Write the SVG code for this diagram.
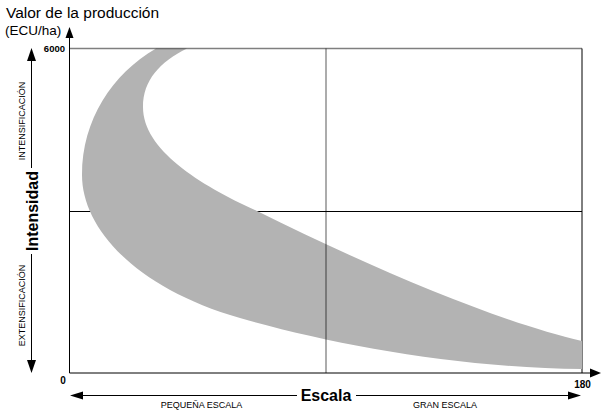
<svg xmlns="http://www.w3.org/2000/svg" width="603" height="413" viewBox="0 0 603 413">
<style>
text{font-family:"Liberation Sans",Arial,sans-serif;fill:#000}
.b{font-weight:bold}
.ln{stroke:#000;stroke-width:1;fill:none}
.ah{fill:#000;stroke:none}
.sm{font-size:9px}
</style>
<rect width="603" height="413" fill="#fff"/>
<g id="grid">
<line class="ln" x1="70" y1="211.5" x2="582" y2="211.5"/>
<line class="ln" x1="582" y1="48.5" x2="582" y2="373"/>
</g>
<g id="band">
<path fill="#b3b3b3" d="M156,48.5 C112,74 82,120 82,175 C82,228 135,288 240,318 C330,344 460,368 582,369 L582,341 C500,322 380,272 257,211 C200,185 143,150 143,107 C143,80 160,62 187,48.5 Z"/>
</g>
<g id="overlay">
<line x1="70" y1="48.5" x2="582" y2="48.5" stroke="#000" stroke-opacity="0.5" stroke-width="1.5"/>
<line x1="326" y1="48.5" x2="326" y2="373" stroke="#000" stroke-opacity="0.65" stroke-width="1"/>
</g>
<g id="axes">
<line class="ln" x1="69.5" y1="37" x2="69.5" y2="373"/>
<polygon class="ah" points="69.5,27 65.5,38 73.5,38"/>
<line class="ln" x1="69.5" y1="373" x2="591" y2="373"/>
<polygon class="ah" points="601,373 590,368.5 590,377.5"/>
</g>
<g id="labels">
<text x="6" y="18" font-size="15.5">Valor de la producción</text>
<text x="5" y="35" font-size="13.5">(ECU/ha)</text>
<text class="b" x="65" y="52" font-size="9.5" text-anchor="end">6000</text>
<text class="b" x="63" y="383.5" font-size="10" text-anchor="middle">0</text>
<text class="b" x="582.5" y="387.5" font-size="10" text-anchor="middle">180</text>
</g>
<g id="escala">
<line class="ln" x1="80" y1="395.5" x2="297" y2="395.5"/>
<line class="ln" x1="356" y1="395.5" x2="571" y2="395.5"/>
<polygon class="ah" points="70,395.5 83,391.5 83,399.5"/>
<polygon class="ah" points="581,395.5 568,391.5 568,399.5"/>
<text class="b" x="326" y="400.5" font-size="16" text-anchor="middle">Escala</text>
<text class="sm" x="201.5" y="408" text-anchor="middle">PEQUEÑA ESCALA</text>
<text class="sm" x="445" y="408" text-anchor="middle">GRAN ESCALA</text>
</g>
<g id="intensidad">
<line class="ln" x1="31.5" y1="58" x2="31.5" y2="168"/>
<line class="ln" x1="31.5" y1="254" x2="31.5" y2="364"/>
<polygon class="ah" points="31.5,48 27,61 36,61"/>
<polygon class="ah" points="31.5,373 27,360 36,360"/>
<text class="b" transform="translate(37.5,211) rotate(-90)" font-size="16" text-anchor="middle">Intensidad</text>
<text class="sm" transform="translate(24.5,121) rotate(-90)" text-anchor="middle">INTENSIFICACIÓN</text>
<text class="sm" transform="translate(24.5,305.5) rotate(-90)" text-anchor="middle">EXTENSIFICACIÓN</text>
</g>
</svg>
